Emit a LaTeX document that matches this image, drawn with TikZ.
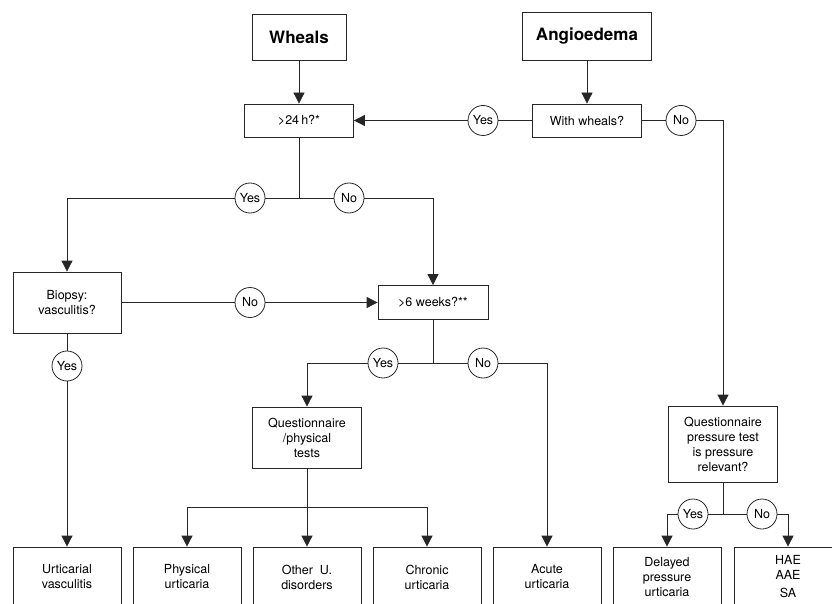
\documentclass[tikz,border=0pt]{standalone}
\usepackage{fontspec}
\setmainfont{TeX Gyre Heros}
\usetikzlibrary{arrows.meta}
\tikzset{
	box/.style={draw=black!85, line width=0.8pt, align=center, inner sep=2pt, font=\fontsize{12.5}{15}\selectfont},
	bigbox/.style={box, font=\fontsize{17}{20}\selectfont\bfseries},
	answer/.style={circle, draw=black!85, line width=0.8pt, fill=white, minimum size=30pt, inner sep=0pt, font=\fontsize{12.5}{15}\selectfont},
	arr/.style={-{Triangle[length=11pt,width=11pt]}},
	wire/.style={draw=black!85, line width=0.8pt}
}

\begin{document}
\begin{tikzpicture}[x=1pt, y=-1pt]
			%%%%% START %%%%%
			\clip (0, 0) rectangle (832, 604);
			
			\node[bigbox, minimum width=94pt, minimum height=46pt] (wheals) at (299, 37) {Wheals};
			\node[bigbox, minimum width=129pt, minimum height=48pt] (angio) at (587, 36) {Angioedema};
			
			\node[box, minimum width=109pt, minimum height=33pt] (h24) at (299, 120.5) {>24\,h?*};
			\node[box, minimum width=109pt, minimum height=33pt] (withwh) at (587, 120.5) {With wheals?};
			\node[answer] (yes1) at (483, 120.5) {Yes};
			\node[answer] (no1) at (681, 120.5) {No};
			
			\coordinate (b1) at (299, 198);
			\node[answer] (yes2) at (250, 198) {Yes};
			\node[answer] (no2) at (349, 198) {No};
			
			\node[box, minimum width=108pt, minimum height=61pt] (biopsy) at (67, 302.5) {Biopsy:\\vasculitis?};
			\node[box, minimum width=110pt, minimum height=34pt] (weeks) at (433, 302.5) {>6 weeks?**};
			\node[answer] (no3) at (250, 302.5) {No};
			\node[answer] (yes3) at (67, 366) {Yes};
			
			\coordinate (b2) at (433, 363);
			\node[answer] (yes4) at (383, 363) {Yes};
			\node[answer] (no4) at (483, 363) {No};
			
			\node[box, minimum width=109pt, minimum height=61pt] (qphys) at (307, 437.5) {Questionnaire\\/physical\\tests};
			\coordinate (b3) at (307, 507);
			
			\node[box, minimum width=109pt, minimum height=76pt] (qpress) at (723, 444) {Questionnaire\\pressure test\\is pressure\\relevant?};
			\coordinate (b4) at (723, 514);
			\node[answer] (yes5) at (693, 514) {Yes};
			\node[answer] (no5) at (762, 514) {No};
			
			\node[box, minimum width=108pt, minimum height=60pt] (uvasc) at (67, 577) {Urticarial\\vasculitis};
			\node[box, minimum width=108pt, minimum height=60pt] (phys) at (187, 577) {Physical\\urticaria};
			\node[box, minimum width=108pt, minimum height=60pt] (other) at (307, 577) {Other\ \ U.\\disorders};
			\node[box, minimum width=108pt, minimum height=60pt] (chronic) at (427, 577) {Chronic\\urticaria};
			\node[box, minimum width=108pt, minimum height=60pt] (acute) at (547, 577) {Acute\\urticaria};
			\node[box, minimum width=108pt, minimum height=60pt] (delayed) at (667, 577) {Delayed\\pressure\\urticaria};
			\node[box, minimum width=108pt, minimum height=60pt] (hae) at (788, 577) {HAE\\AAE\\[3pt]SA};
			
			\draw[wire, arr] (wheals) -- (h24);
			\draw[wire, arr] (angio) -- (withwh);
			\draw[wire] (withwh) -- (yes1);
			\draw[wire, arr] (yes1) -- (h24);
			\draw[wire] (withwh) -- (no1);
			\draw[wire, arr] (no1) -| (qpress);
			
			\draw[wire] (h24) -- (b1);
			\draw[wire] (b1) -- (yes2);
			\draw[wire, arr] (yes2) -| (biopsy);
			\draw[wire] (b1) -- (no2);
			\draw[wire, arr] (no2) -| (weeks);
			
			\draw[wire] (biopsy) -- (no3);
			\draw[wire, arr] (no3) -- (weeks);
			\draw[wire] (biopsy) -- (yes3);
			\draw[wire, arr] (yes3) -- (uvasc);
			
			\draw[wire] (weeks) -- (b2);
			\draw[wire] (b2) -- (yes4);
			\draw[wire, arr] (yes4) -| (qphys);
			\draw[wire] (b2) -- (no4);
			\draw[wire, arr] (no4) -| (acute);
			
			\draw[wire] (qphys) -- (b3);
			\draw[wire, arr] (b3) -| (phys);
			\draw[wire, arr] (b3) -- (other);
			\draw[wire, arr] (b3) -| (chronic);
			
			\draw[wire] (qpress) -- (b4);
			\draw[wire] (b4) -- (yes5);
			\draw[wire, arr] (yes5) -| (delayed);
			\draw[wire] (b4) -- (no5);
			\draw[wire, arr] (no5) -| (hae);
			%%%%% END %%%%%
		\end{tikzpicture}
\end{document}
